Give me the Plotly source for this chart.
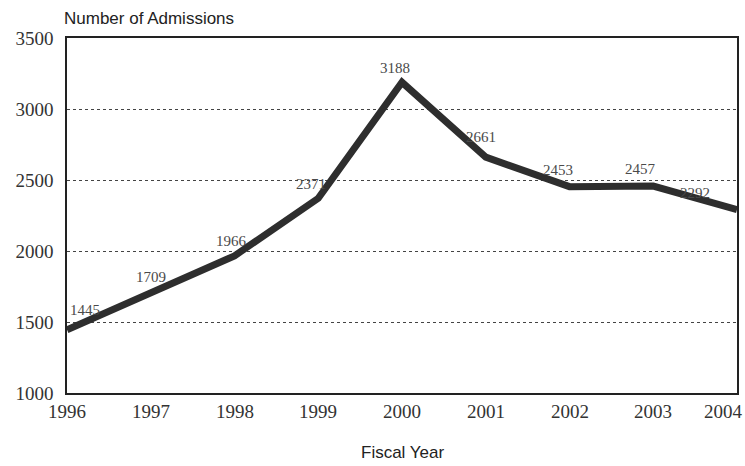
import plotly.graph_objects as go

# Admissions per fiscal year
years = [1996, 1997, 1998, 1999, 2000, 2001, 2002, 2003, 2004]
admissions = [1445, 1709, 1966, 2371, 3188, 2661, 2453, 2457, 2292]
y_ticks = [1000, 1500, 2000, 2500, 3000, 3500]

# label nudges (pixels) so values sit just above the line
label_dx = [18, 0, -3, -7, -7, -5, -12, -13, -42]
label_dy = [20, 15, 15, 14, 14, 20, 17, 17, 17]

fig = go.Figure()
fig.add_trace(go.Scatter(
    x=years, y=admissions, mode="lines",
    line=dict(color="#2e2e2e", width=7),
    hoverinfo="x+y", showlegend=False,
))

serif = "Liberation Serif, Times New Roman, serif"
sans = "Liberation Sans, Arial, sans-serif"

for yr, v, dx, dy in zip(years, admissions, label_dx, label_dy):
    fig.add_annotation(
        x=yr, y=v, text=str(v), showarrow=False,
        xshift=dx, yshift=dy, yanchor="middle", xanchor="center",
        font=dict(family=serif, size=15, color="#4a4a4a"),
    )

# year labels under the axis; the last one is kept inside the page
for i, yr in enumerate(years):
    last = i == len(years) - 1
    fig.add_annotation(
        x=yr, xref="x", y=0, yref="paper", yanchor="top", yshift=-6,
        xanchor="right" if last else "center", xshift=8 if last else 0,
        text=str(yr), showarrow=False,
        font=dict(family=serif, size=19, color="#333"),
    )

fig.add_annotation(
    x=0, xref="paper", xanchor="left", xshift=-5,
    y=1, yref="paper", yanchor="bottom", yshift=8,
    text="Number of Admissions", showarrow=False,
    font=dict(family=sans, size=17, color="#222"),
)
fig.add_annotation(
    x=0.5, xref="paper", xanchor="center",
    y=0, yref="paper", yanchor="top", yshift=-48,
    text="Fiscal Year", showarrow=False,
    font=dict(family=sans, size=17, color="#222"),
)

fig.update_xaxes(
    range=[1996, 2004], tickvals=years, showticklabels=False,
    showgrid=False, zeroline=False,
    showline=True, linecolor="#222", linewidth=1.5, mirror=True,
    ticks="",
)
fig.update_yaxes(
    range=[1000, 3500], tickvals=y_ticks,
    showgrid=True, gridcolor="#444", griddash="dot", gridwidth=1,
    zeroline=False,
    showline=True, linecolor="#222", linewidth=1.5, mirror=True,
    ticks="", ticklabelstandoff=8,
    tickfont=dict(family=serif, size=19, color="#333"),
)

fig.update_layout(
    width=745, height=466,
    margin=dict(l=67, r=8, t=38, b=73, autoexpand=False),
    paper_bgcolor="white", plot_bgcolor="white",
)

fig.write_html("out.html")
